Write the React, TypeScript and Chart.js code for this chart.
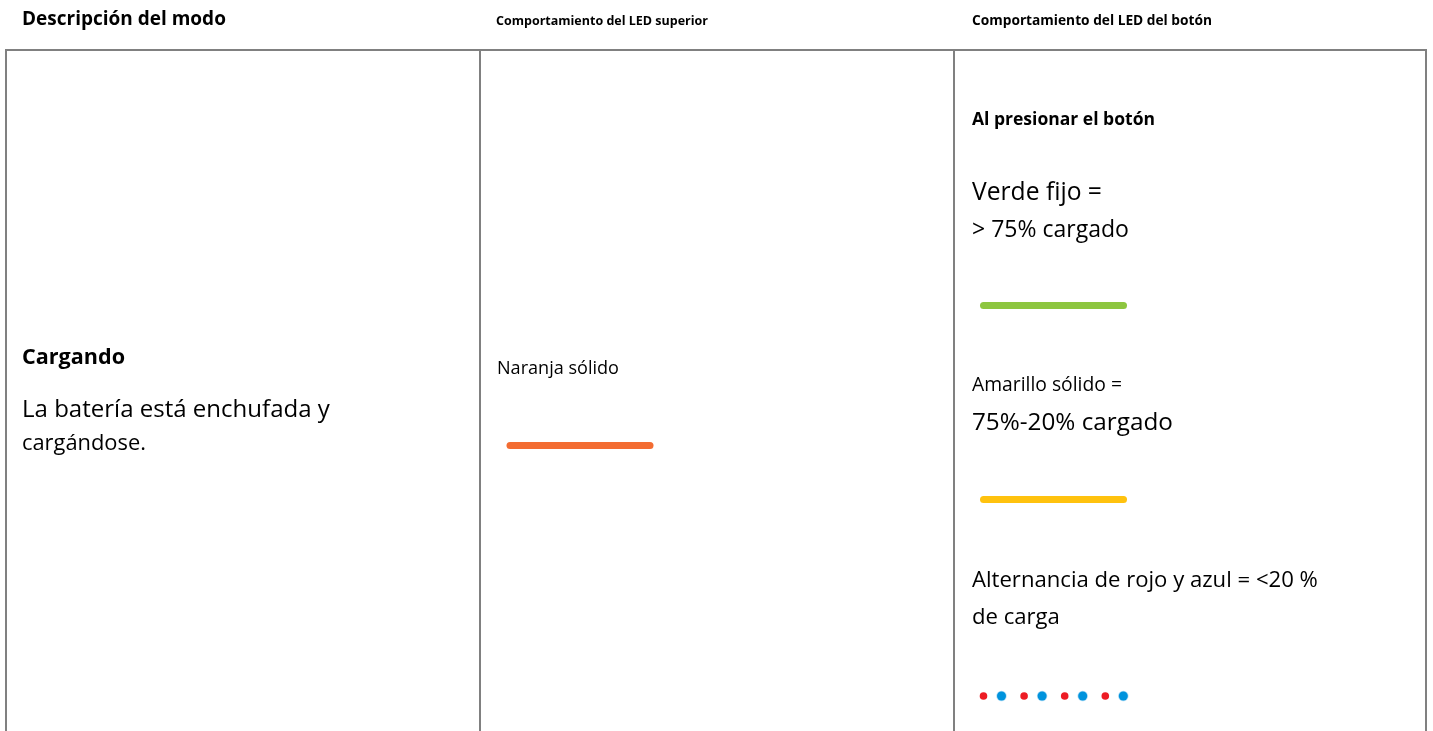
import React, { useEffect, useRef } from "react";
import { Chart, registerables } from "chart.js";

Chart.register(...registerables);

// ---------- content / data ----------
const columnHeaders = [
  "Descripción del modo",
  "Comportamiento del LED superior",
  "Comportamiento del LED del botón",
];
const modeTitle = "Cargando";
const modeDescription = ["La batería está enchufada y", "cargándose."];
const topLedLabel = "Naranja sólido";
const topLedColor = "#F36C32";
const buttonIntro = "Al presionar el botón";
const buttonStateLabels = [
  ["Verde fijo =", "> 75% cargado"],
  ["Amarillo sólido =", "75%-20% cargado"],
  ["Alternancia de rojo y azul = <20 %", "de carga"],
];
const buttonStateColors = ["#8DC63F", "#FFC20E"];
const blinkSequence = ["red", "blue", "red", "blue", "red", "blue", "red", "blue"];
const blinkColors: Record<string, string> = { red: "#ED1C24", blue: "#0093DD" };

// ---------- layout ----------
const W = 1433;
const H = 731;
const FONT = '"Open Sans", "Noto Sans", sans-serif';
const COL_X = [6, 480, 954, 1426];
const TABLE_TOP = 50;
const BORDER_COLOR = "#808080";
const TEXT_PAD = [22, 496, 972];
const TEXT_DY = 2;
const BAR_W = 7;
const TOP_BAR = { x0: 510, x1: 650, y: 445.5 };
const BTN_BAR = { x0: 983.5, x1: 1123.5 };
const BTN_BAR_Y = [305.5, 499.5];
const DOT_X0 = 983.5;
const DOT_PAIR_STEP = 40.6;
const DOT_GAP = 18;
const DOT_Y = 696;

// each text is sized so that it spans the given width (w), or reuses the size of another item (same)
type TextItem = { text: string; x: number; y: number; w?: number; same?: number; bold?: boolean };

const texts: TextItem[] = [
  { text: columnHeaders[0], x: TEXT_PAD[0], y: 18, w: 204, bold: true },
  { text: columnHeaders[1], x: TEXT_PAD[1], y: 19, w: 212, bold: true },
  { text: columnHeaders[2], x: TEXT_PAD[2], y: 19, w: 240, bold: true },
  { text: modeTitle, x: TEXT_PAD[0], y: 356, w: 103, bold: true },
  { text: modeDescription[0], x: TEXT_PAD[0], y: 408, w: 308 },
  { text: modeDescription[1], x: TEXT_PAD[0], y: 442, w: 124 },
  { text: topLedLabel, x: TEXT_PAD[1] + 1, y: 367, w: 122 },
  { text: buttonIntro, x: TEXT_PAD[2], y: 118, w: 183, bold: true },
  { text: buttonStateLabels[0][0], x: TEXT_PAD[2], y: 191, w: 130 },
  { text: buttonStateLabels[0][1], x: TEXT_PAD[2], y: 228, w: 157 },
  { text: buttonStateLabels[1][0], x: TEXT_PAD[2], y: 383, w: 150 },
  { text: buttonStateLabels[1][1], x: TEXT_PAD[2], y: 421, w: 201 },
  { text: buttonStateLabels[2][0], x: TEXT_PAD[2], y: 579, w: 346 },
  { text: buttonStateLabels[2][1], x: TEXT_PAD[2], y: 616, same: 12 },
];

const textPlugin = {
  id: "tableText",
  afterDatasetsDraw(chart: any) {
    const { ctx, scales } = chart;
    ctx.save();
    ctx.fillStyle = "#000000";
    ctx.textBaseline = "middle";
    ctx.textAlign = "left";
    const sizes: number[] = [];
    texts.forEach((t, i) => {
      const weight = t.bold ? "bold " : "";
      let size: number;
      if (t.same !== undefined) {
        size = sizes[t.same];
      } else {
        ctx.font = `${weight}100px ${FONT}`;
        size = ((t.w as number) / ctx.measureText(t.text).width) * 100;
      }
      sizes[i] = size;
      ctx.font = `${weight}${size.toFixed(2)}px ${FONT}`;
      ctx.fillText(t.text, scales.x.getPixelForValue(t.x), scales.y.getPixelForValue(t.y + TEXT_DY));
    });
    ctx.restore();
  },
};

function lineDs(points: { x: number; y: number }[], color: string, width: number, cap: string = "butt") {
  return {
    type: "line" as const,
    data: points,
    borderColor: color,
    backgroundColor: color,
    borderWidth: width,
    borderCapStyle: cap,
    pointRadius: 0,
    pointHoverRadius: 0,
    showLine: true,
    fill: false,
    tension: 0,
  };
}

export default function App() {
  const ref = useRef<HTMLCanvasElement | null>(null);

  useEffect(() => {
    if (!ref.current) return;
    const datasets: any[] = [];

    // table frame
    datasets.push(
      lineDs(
        [
          { x: COL_X[0], y: TABLE_TOP },
          { x: COL_X[3], y: TABLE_TOP },
        ],
        BORDER_COLOR,
        2
      )
    );
    COL_X.forEach((cx) =>
      datasets.push(
        lineDs(
          [
            { x: cx, y: TABLE_TOP - 1 },
            { x: cx, y: H },
          ],
          BORDER_COLOR,
          2
        )
      )
    );

    // top LED bar
    datasets.push(
      lineDs(
        [
          { x: TOP_BAR.x0, y: TOP_BAR.y },
          { x: TOP_BAR.x1, y: TOP_BAR.y },
        ],
        topLedColor,
        BAR_W,
        "round"
      )
    );

    // button LED bars
    buttonStateColors.forEach((c, i) =>
      datasets.push(
        lineDs(
          [
            { x: BTN_BAR.x0, y: BTN_BAR_Y[i] },
            { x: BTN_BAR.x1, y: BTN_BAR_Y[i] },
          ],
          c,
          BAR_W,
          "round"
        )
      )
    );

    // blinking dots
    const dotPts = blinkSequence.map((_, i) => ({
      x: DOT_X0 + Math.floor(i / 2) * DOT_PAIR_STEP + (i % 2) * DOT_GAP,
      y: DOT_Y,
    }));
    datasets.push({
      type: "scatter" as const,
      data: dotPts,
      pointRadius: blinkSequence.map((k) => (k === "blue" ? 4.5 : 3.8)),
      pointBackgroundColor: blinkSequence.map((k) => blinkColors[k]),
      pointBorderColor: blinkSequence.map((k) => (k === "blue" ? "rgba(0,147,221,0.3)" : blinkColors[k])),
      pointBorderWidth: blinkSequence.map((k) => (k === "blue" ? 1.5 : 0)),
      showLine: false,
    });

    const chart = new Chart(ref.current, {
      type: "scatter",
      data: { datasets },
      options: {
        animation: false,
        responsive: false,
        maintainAspectRatio: false,
        devicePixelRatio: 1,
        layout: { padding: 0, autoPadding: false },
        plugins: { legend: { display: false }, tooltip: { enabled: false }, title: { display: false } },
        events: [],
        scales: {
          x: { type: "linear", min: 0, max: W, display: false },
          y: { type: "linear", min: 0, max: H, reverse: true, display: false },
        },
      },
      plugins: [textPlugin],
    } as any);

    return () => chart.destroy();
  }, []);

  return (
    <div style={{ position: "fixed", left: 0, top: 0, width: W, height: H, background: "#ffffff" }}>
      <canvas ref={ref} width={W} height={H} style={{ display: "block", width: W, height: H }} />
    </div>
  );
}
